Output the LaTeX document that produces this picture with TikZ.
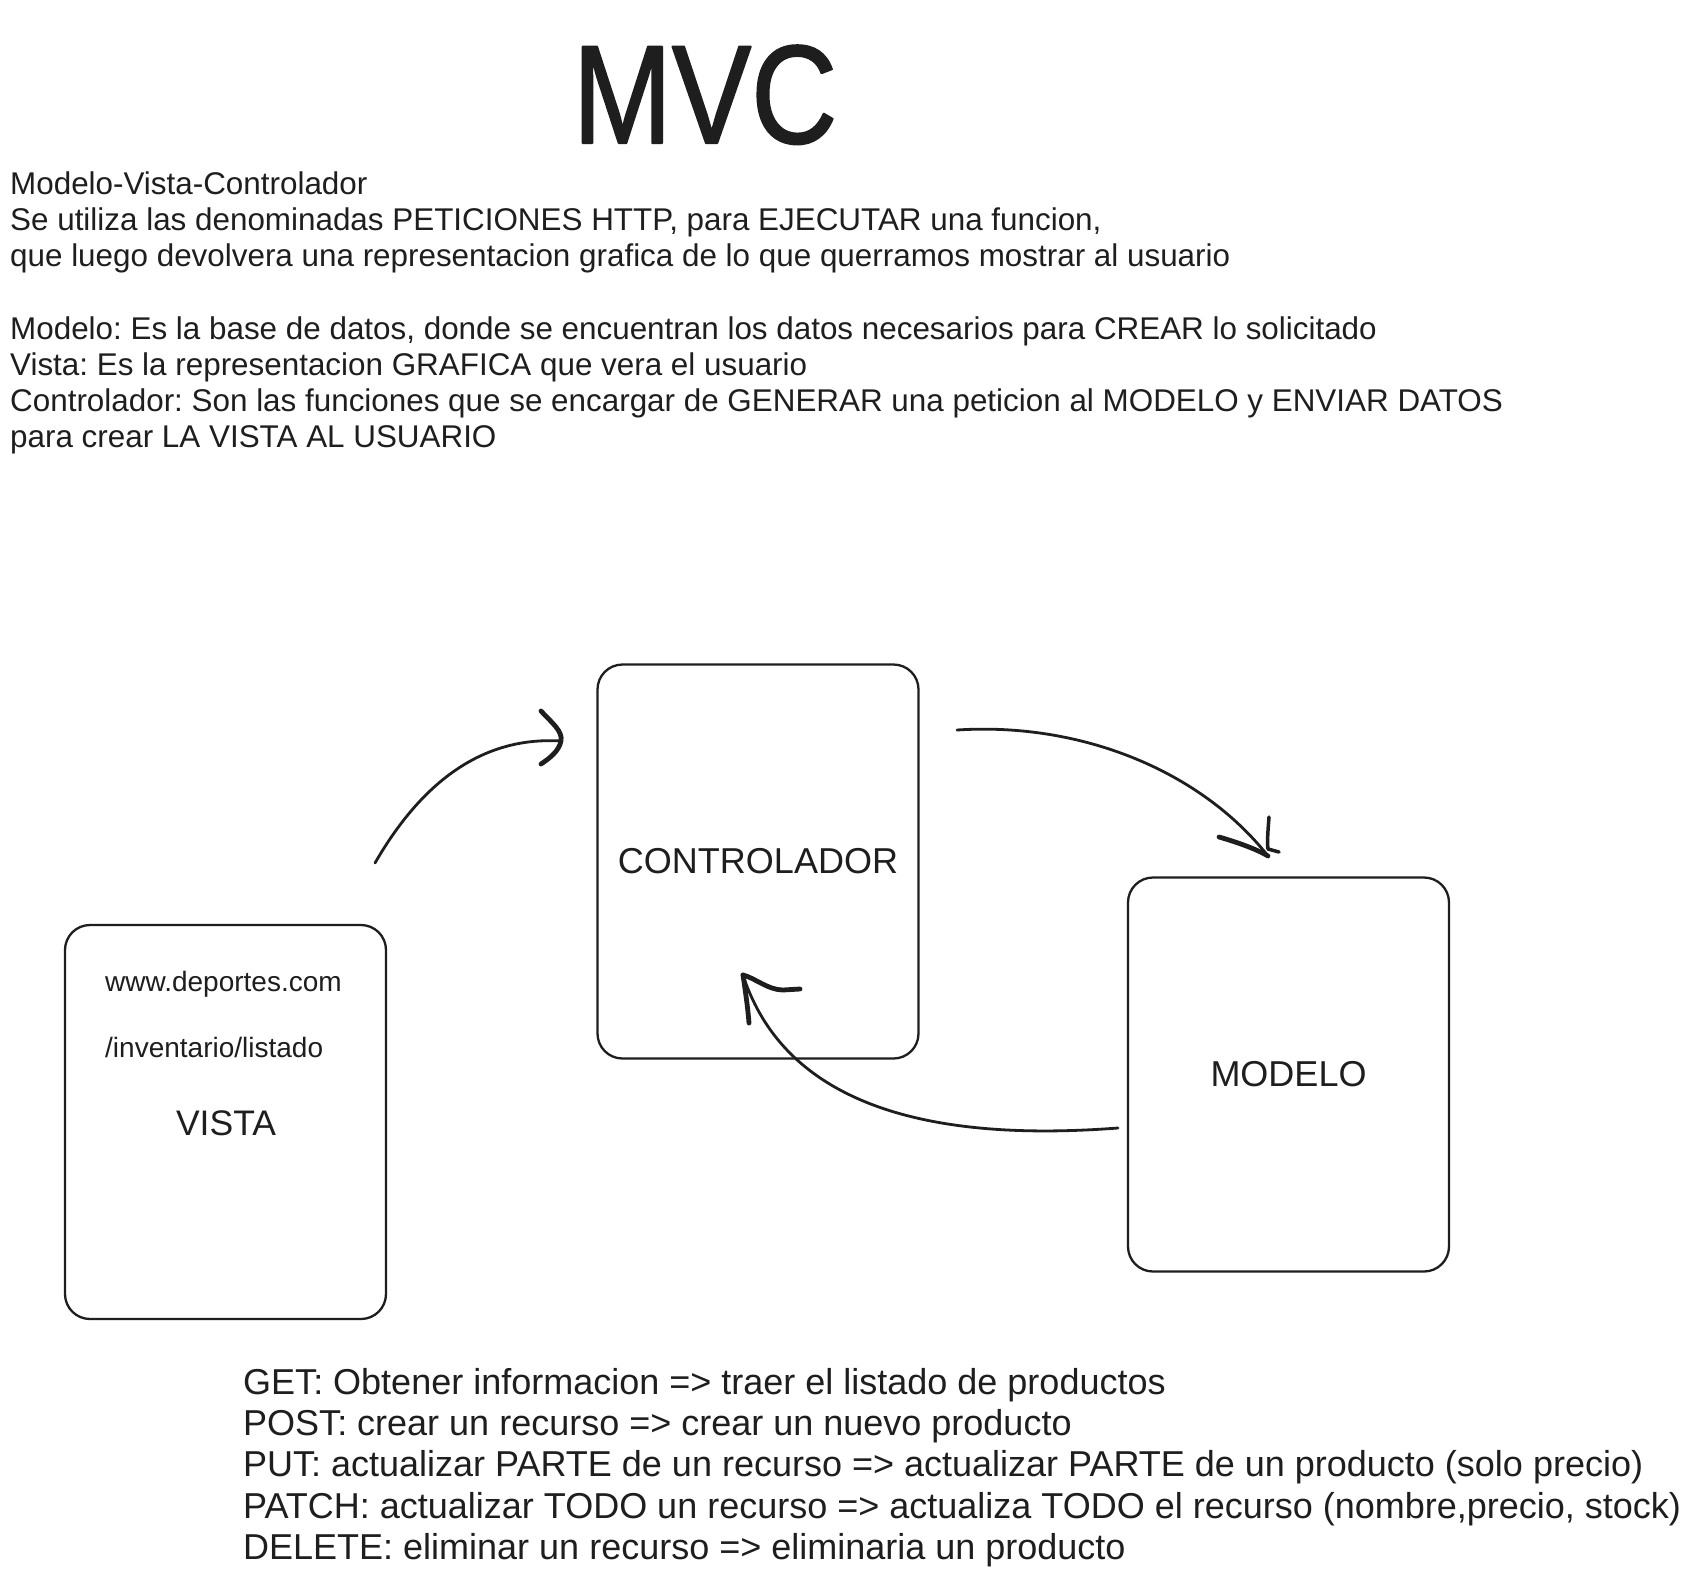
\documentclass[tikz,border=0pt]{standalone}
\usepackage{fontspec}
\setmainfont{Liberation Sans}
\newfontfamily\mvctitlefont[FakeBold=1.5]{Liberation Sans}
\definecolor{ink}{HTML}{1E1E1E}
\frenchspacing
\begin{document}
\frenchspacing
\begin{tikzpicture}[x=1pt,y=-1pt,line cap=round,line join=round,
  box/.style={draw=ink,line width=2.3pt,rounded corners=25pt,minimum width=321pt,minimum height=394pt,inner sep=0pt,text=ink,font=\fontsize{36}{41}\selectfont},
  txt/.style={anchor=base west,inner sep=0pt,text=ink,font=\fontsize{31.4}{36}\selectfont},
  big/.style={anchor=base west,inner sep=0pt,text=ink,font=\fontsize{36}{41}\selectfont},
  url/.style={anchor=base west,inner sep=0pt,text=ink,font=\fontsize{28}{32}\selectfont},
  conn/.style={draw=ink,line width=2.8pt},
  head/.style={draw=ink,line width=4.8pt}]
\fill[white] (0,0) rectangle (1690,1575);
\useasboundingbox (0,0) rectangle (1690,1575);

% title
\node[anchor=base,inner sep=0pt,text=ink,font=\mvctitlefont\fontsize{140}{140}\selectfont] (title) at (705,143) {\scalebox{0.85}[1]{MVC}};

% description
\node[txt] (t1) at (10,194.5) {Modelo-Vista-Controlador};
\node[txt] (t2) at (10,230.7) {Se utiliza las denominadas PETICIONES HTTP, para EJECUTAR una funcion,};
\node[txt] (t3) at (10,266.9) {que luego devolvera una representacion grafica de lo que querramos mostrar al usuario};
\node[txt] (t4) at (10,339.3) {Modelo: Es la base de datos, donde se encuentran los datos necesarios para CREAR lo solicitado};
\node[txt] (t5) at (10,375.5) {Vista: Es la representacion GRAFICA que vera el usuario};
\node[txt] (t6) at (10,411.7) {Controlador: Son las funciones que se encargar de GENERAR una peticion al MODELO y ENVIAR DATOS};
\node[txt] (t7) at (10,447.9) {para crear LA VISTA AL USUARIO};

% boxes
\node[box] (ctrl) at (758,861.5) {CONTROLADOR};
\node[box] (modelo) at (1288.5,1074.5) {MODELO};
\node[box] (vista) at (225.5,1122) {};
\node[url] (www) at (105,991) {www.deportes.com};
\node[url] (ruta) at (105,1057) {/inventario/listado};
\node[anchor=base,inner sep=0pt,text=ink,font=\fontsize{35.5}{40}\selectfont] (vlabel) at (226,1135) {VISTA};

% arrow vista -> controlador
\coordinate (a1s) at (375,863);
\coordinate (a1e) at (561,741);
\draw[conn] (a1s) .. controls (420,785) and (480,736) .. (a1e);
\draw[head] (541,711) .. controls (551,722) and (563,731) .. (a1e) .. controls (559,751) and (550,758) .. (541,764);

% arrow controlador -> modelo
\coordinate (a2s) at (957,730);
\coordinate (a2e) at (1268,856);
\draw[conn] (a2s) .. controls (1080,722) and (1200,770) .. (a2e);
\draw[head] (1219,837) .. controls (1240,843) and (1258,850) .. (a2e);
\draw[head,line width=3.5pt] (1269,817) .. controls (1268,830) and (1267,842) .. (1268,849) -- (1279,852);

% arrow modelo -> controlador
\coordinate (a3s) at (1118,1128);
\coordinate (a3e) at (743,975);
\draw[conn] (a3s) .. controls (960,1140) and (790,1120) .. (a3e);
\draw[head] (a3e) .. controls (746,995) and (748,1010) .. (749,1023);
\draw[head] (a3e) .. controls (755,978) and (768,990) .. (783,990) -- (800,989);

% methods
\node[big] (m1) at (243,1394) {GET: Obtener informacion => traer el listado de productos};
\node[big] (m2) at (243,1435.4) {POST: crear un recurso => crear un nuevo producto};
\node[big] (m3) at (243,1476.8) {PUT: actualizar PARTE de un recurso => actualizar PARTE de un producto (solo precio)};
\node[big] (m4) at (243,1518.2) {PATCH: actualizar TODO un recurso => actualiza TODO el recurso (nombre,precio, stock)};
\node[big] (m5) at (243,1559.6) {DELETE: eliminar un recurso => eliminaria un producto};
\end{tikzpicture}
\end{document}
